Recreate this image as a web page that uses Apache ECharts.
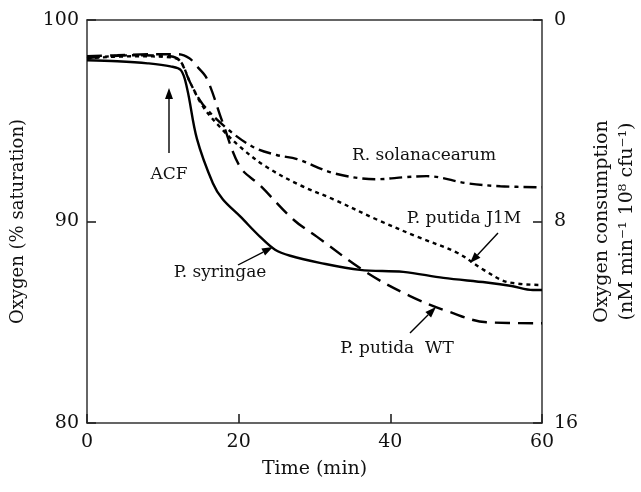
<!DOCTYPE html>
<html><head><meta charset="utf-8">
<script src="https://cdn.jsdelivr.net/npm/echarts@6/dist/echarts.min.js"></script>
<style>html,body{margin:0;padding:0;background:#fff}#c{width:641px;height:492px}</style>
</head><body><div id="c"></div>
<script>
const xTicks = [0, 20, 40, 60];
const yLeftTicks = [80, 90, 100];
const yRightTicks = [0, 8, 16];
const syringae = [[0,98.0],[4,97.95],[8,97.85],[11,97.7],[12.4,97.5],[13.2,96.6],[14.5,94.1],[16.6,91.9],[17.9,91.1],[20.2,90.25],[22.8,89.25],[24.8,88.6],[26.8,88.3],[30.7,87.95],[36,87.6],[41.7,87.5],[47,87.2],[52.7,86.97],[56,86.8],[58.8,86.6],[60,86.6]];
const putidaWT = [[0,98.2],[4,98.25],[8,98.3],[12,98.3],[13.5,98.1],[14.5,97.7],[15.8,97.1],[17.9,94.9],[20.2,92.7],[22.8,91.8],[27.2,90.1],[30.3,89.25],[36.9,87.46],[42.6,86.3],[47.9,85.5],[52.7,85.0],[60,84.95]];
const putidaJ1M = [[0,98.1],[6,98.2],[11,98.15],[12.3,97.96],[13.6,96.9],[15.3,95.7],[17.5,94.7],[20.2,93.7],[23.7,92.7],[28.1,91.8],[32.5,91.1],[38.2,90.1],[43.5,89.25],[48.8,88.45],[52.3,87.6],[55.4,87.0],[60,86.85]];
const solanacearum = [[0,98.1],[6,98.25],[11,98.2],[12.3,97.95],[13.6,96.9],[15.3,95.8],[18.5,94.6],[21.9,93.7],[25,93.3],[27.7,93.1],[32.5,92.4],[38.2,92.1],[42,92.2],[44.8,92.25],[50.1,91.9],[54.5,91.75],[60,91.7]];

const FONT = 'DejaVu Serif';
const chart = echarts.init(document.getElementById('c'));
function mkSeries(name, data, type) {
  return {name, type:'line', data, smooth:0.35, symbol:'none', xAxisIndex:0, yAxisIndex:0,
    lineStyle:{color:'#000', width:2.4, type: type, cap:'butt'}, z:3};
}
const tickStyle = {show:true, inside:true, length:9, lineStyle:{color:'#222', width:1.6}};
const lineSt = {show:true, onZero:false, lineStyle:{color:'#333', width:1.5}};
chart.setOption({
  animation:false,
  grid:{left:87, right:99, top:20, bottom:69, show:false, containLabel:false, outerBoundsMode:'none'},
  xAxis:[{type:'value', min:0, max:60, interval:20, position:'bottom', name:'Time (min)', nameLocation:'middle', nameGap:37,
    nameTextStyle:{fontFamily:FONT, fontSize:19, color:'#111'},
    axisLine:lineSt, axisTick:tickStyle,
    axisLabel:{fontFamily:FONT, fontSize:19, color:'#111', margin:10, formatter:v=>xTicks.includes(v)?String(v):''}, splitLine:{show:false}},
   {type:'value', min:0, max:60, position:'top', axisLine:lineSt, axisTick:{show:false}, axisLabel:{show:false}, splitLine:{show:false}}],
  yAxis:[{type:'value', min:80, max:100, interval:10, position:'left', name:'Oxygen (% saturation)', nameLocation:'middle', nameGap:60,
    nameTextStyle:{fontFamily:FONT, fontSize:18, color:'#111'},
    axisLine:lineSt, axisTick:tickStyle,
    axisLabel:{fontFamily:FONT, fontSize:19, color:'#111', margin:8, formatter:v=>yLeftTicks.includes(v)?String(v):''}, splitLine:{show:false}},
   {type:'value', min:0, max:16, interval:8, inverse:true, position:'right', name:'Oxygen consumption\n(nM min\u207B\u00B9 10\u2078 cfu\u207B\u00B9)', nameLocation:'middle', nameGap:34, nameRotate:90,
    nameTextStyle:{fontFamily:FONT, fontSize:19, color:'#111', lineHeight:25},
    axisLine:lineSt, axisTick:tickStyle,
    axisLabel:{fontFamily:FONT, fontSize:19, color:'#111', margin:12, formatter:v=>yRightTicks.includes(v)?String(v):''}, splitLine:{show:false}}],
  series:[
    mkSeries('P. syringae', syringae, 'solid'),
    mkSeries('P. putida WT', putidaWT, [15,8]),
    mkSeries('P. putida J1M', putidaJ1M, [4,4]),
    mkSeries('R. solanacearum', solanacearum, [13,5,4,5])
  ]
});

function arrow(x1,y1,x2,y2){
  const ang = Math.atan2(y2-y1, x2-x1), L=11, W=4;
  const bx = x2 - L*Math.cos(ang), by = y2 - L*Math.sin(ang);
  const px = -Math.sin(ang)*W, py = Math.cos(ang)*W;
  return [
    {type:'line', shape:{x1, y1, x2:bx, y2:by}, style:{stroke:'#000', lineWidth:1.4}, z:10},
    {type:'polygon', shape:{points:[[x2,y2],[bx+px,by+py],[bx-px,by-py]]}, style:{fill:'#000'}, z:10}
  ];
}
function txt(x,y,s){ return {type:'text', x, y, style:{text:s, font:'17px "DejaVu Serif"', fill:'#111', textAlign:'center', textVerticalAlign:'middle'}, z:10}; }
const g = [
  txt(169,175,'ACF'), ...arrow(169,153,169,88),
  txt(424,156,'R. solanacearum'),
  txt(464,219,'P. putida J1M'), ...arrow(498,233,470,263),
  txt(220,273,'P. syringae'), ...arrow(238,265,273,247),
  txt(397,349,'P. putida  WT'), ...arrow(410,333,436,307)
];
chart.setOption({graphic:g});
</script></body></html>
